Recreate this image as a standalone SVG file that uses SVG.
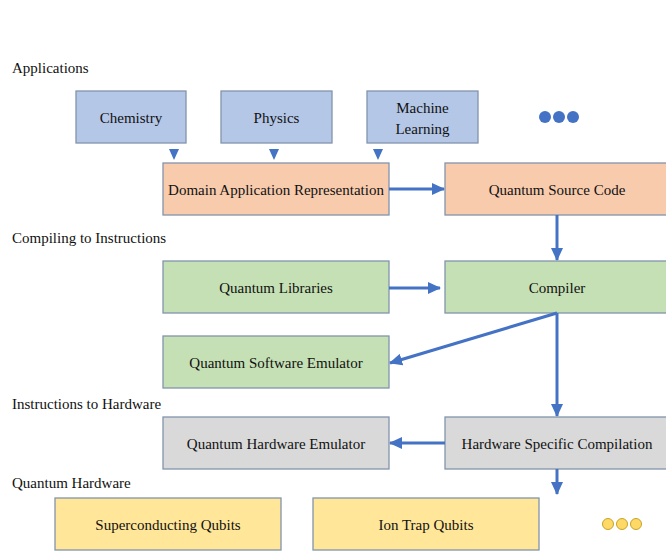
<svg xmlns="http://www.w3.org/2000/svg" width="666" height="551" viewBox="0 0 666 551">
<defs>
<style>
.t{font-family:'Liberation Serif','DejaVu Serif',serif;font-size:15px;fill:#111}
.c{text-anchor:middle}
.b{stroke:#8294ad;stroke-width:1.3}
.blue{fill:#b4c7e7}
.org{fill:#f8cbad}
.grn{fill:#c5e0b4}
.gry{fill:#d9d9d9}
.yel{fill:#ffe699}
.ln{stroke:#4472c4;stroke-width:3;fill:none;marker-end:url(#ah)}
.tri{fill:#4472c4}
.yd{fill:#ffd966;stroke:#c9a227;stroke-width:1}
</style>
<marker id="ah" markerUnits="userSpaceOnUse" markerWidth="14" markerHeight="12" refX="12" refY="6" orient="auto">
<path d="M0,0 L13,6 L0,12 Z" fill="#4472c4"/>
</marker>
</defs>
<rect width="666" height="551" fill="#fff"/>
<g class="t">
<text x="12" y="73">Applications</text>
<text x="12" y="243">Compiling to Instructions</text>
<text x="12" y="409">Instructions to Hardware</text>
<text x="12" y="488">Quantum Hardware</text>
</g>
<g class="t">
<g id="chemistry"><rect class="b blue" x="76" y="91" width="110" height="52"/><text class="c" x="131" y="123">Chemistry</text></g>
<g id="physics"><rect class="b blue" x="221" y="91" width="111" height="52"/><text class="c" x="276.5" y="123">Physics</text></g>
<g id="ml"><rect class="b blue" x="367" y="91" width="111" height="52"/><text class="c" x="422.5" y="113">Machine</text><text class="c" x="422.5" y="134">Learning</text></g>
<g id="dots-apps"><circle cx="545" cy="117" r="6" fill="#4472c4"/><circle cx="559" cy="117" r="6" fill="#4472c4"/><circle cx="573" cy="117" r="6" fill="#4472c4"/></g>
<g id="domain"><rect class="b org" x="163" y="163" width="226" height="52"/><text class="c" x="276" y="195">Domain Application Representation</text></g>
<g id="qsc"><rect class="b org" x="445" y="163" width="224" height="52"/><text class="c" x="557" y="195">Quantum Source Code</text></g>
<g id="qlib"><rect class="b grn" x="163" y="261" width="226" height="52"/><text class="c" x="276" y="293">Quantum Libraries</text></g>
<g id="compiler"><rect class="b grn" x="445" y="261" width="224" height="52"/><text class="c" x="557" y="293">Compiler</text></g>
<g id="qse"><rect class="b grn" x="163" y="336" width="226" height="52"/><text class="c" x="276" y="368">Quantum Software Emulator</text></g>
<g id="qhe"><rect class="b gry" x="163" y="417" width="226" height="52"/><text class="c" x="276" y="449">Quantum Hardware Emulator</text></g>
<g id="hsc"><rect class="b gry" x="445" y="417" width="224" height="52"/><text class="c" x="557" y="449">Hardware Specific Compilation</text></g>
<g id="sc"><rect class="b yel" x="55" y="498" width="226" height="52"/><text class="c" x="168" y="530">Superconducting Qubits</text></g>
<g id="ion"><rect class="b yel" x="313" y="498" width="226" height="52"/><text class="c" x="426" y="530">Ion Trap Qubits</text></g>
<g id="dots-hw"><circle class="yd" cx="608" cy="524" r="5.5"/><circle class="yd" cx="622" cy="524" r="5.5"/><circle class="yd" cx="636" cy="524" r="5.5"/></g>
</g>
<g id="connectors">
<polygon class="tri" points="169,149 179,149 174,160"/>
<polygon class="tri" points="269,149 279,149 274,160"/>
<polygon class="tri" points="373,149 383,149 378,160"/>
<line class="ln" x1="389" y1="189" x2="444" y2="189"/>
<line class="ln" x1="557" y1="215" x2="557" y2="260"/>
<line class="ln" x1="389" y1="288" x2="440" y2="288"/>
<line class="ln" x1="557" y1="313" x2="390" y2="363"/>
<line class="ln" x1="557" y1="313" x2="557" y2="416"/>
<line class="ln" x1="445" y1="443" x2="390" y2="443"/>
<line class="ln" x1="557" y1="469" x2="557" y2="494"/>
</g>
</svg>
